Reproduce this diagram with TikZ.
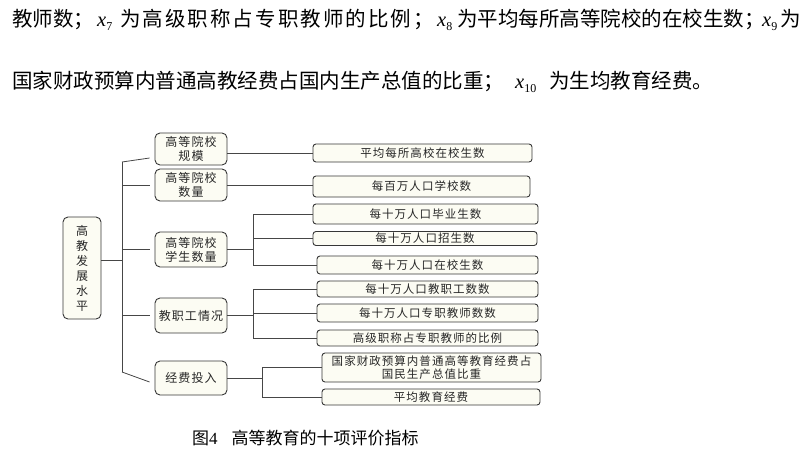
\documentclass[tikz,border=0pt]{standalone}
\usepackage[no-math]{fontspec}
\setmainfont{Noto Sans CJK SC}
\newfontfamily\boxfont[LetterSpace=9]{Noto Sans CJK SC}
\newfontfamily\widefont[LetterSpace=10]{Noto Sans CJK SC}
\newfontfamily\latinfont{Liberation Serif}
\usepackage{tikz}
\usepackage{amsmath}

\definecolor{boxfill}{RGB}{252,252,243}
\definecolor{boxline}{RGB}{55,55,55}
\definecolor{linkgray}{RGB}{70,70,70}

\newcommand{\xvar}[1]{{\latinfont\itshape x}\raisebox{-4pt}{\latinfont\fontsize{12}{12}\selectfont #1}}

\tikzset{
  toptext/.style={anchor=base west,inner sep=0pt,font=\fontsize{20.5}{24}\selectfont},
  catbox/.style={draw=boxline,fill=boxfill,rounded corners=5pt,line width=0.9pt,
    inner sep=0pt,minimum width=72pt,align=center,text=black!85,
    font=\boxfont\fontsize{12}{14}\selectfont},
  itembox/.style={draw=boxline,fill=boxfill,rounded corners=3pt,line width=0.9pt,
    inner sep=0pt,align=center,text=black!85,
    font=\boxfont\fontsize{11.5}{13}\selectfont},
  link/.style={draw=linkgray,line width=0.8pt}
}

\begin{document}
\begin{tikzpicture}[x=1pt,y=-1pt]
\useasboundingbox (0,0) rectangle (802,450);
% text above the figure:
\node[toptext] (lineAa) at (12,26) {教师数；};
\node[toptext] (lineAb) at (97,26) {\xvar{7}};
\node[toptext,font=\widefont\fontsize{20.5}{24}\selectfont] (lineAc) at (120,26) {为高级职称占专职教师的比例；};
\node[toptext] (lineAd) at (437,26) {\xvar{8}};
\node[toptext] (lineAe) at (457,26) {为平均每所高等院校的在校生数；};
\node[toptext] (lineAf) at (762,26) {\xvar{9}};
\node[toptext] (lineAg) at (780,26) {为};
\node[toptext] (lineBa) at (12,88) {国家财政预算内普通高教经费占国内生产总值的比重；};
\node[toptext] (lineBb) at (515,88) {\xvar{10}};
\node[toptext] (lineBc) at (549,88) {为生均教育经费。};
% root and first level:
\node[catbox,minimum width=38pt,minimum height=102pt,
  font=\boxfont\fontsize{12}{15}\selectfont] (root) at (82,268) {高\\教\\发\\展\\水\\平};
\node[catbox,minimum height=32pt] (lvScale) at (191,149) {高等院校\\规模};
\node[catbox,minimum height=32pt] (lvNum) at (191,185) {高等院校\\数量};
\node[catbox,minimum height=35pt] (lvStu) at (191,249.5) {高等院校\\学生数量};
\node[catbox,minimum height=35pt] (lvStaff) at (191,315.5) {教职工情况};
\node[catbox,minimum height=34pt] (lvFund) at (191,378) {经费投入};
% second level:
\node[itembox,minimum width=219pt,minimum height=18pt] (avgEnrol) at (422.5,153) {平均每所高校在校生数};
\node[itembox,minimum width=217pt,minimum height=21pt] (milSchool) at (421.5,186.5) {每百万人口学校数};
\node[itembox,minimum width=225pt,minimum height=20pt] (tenGrad) at (425.5,214) {每十万人口毕业生数};
\node[itembox,minimum width=224pt,minimum height=14pt] (tenAdmit) at (425,238.5) {每十万人口招生数};
\node[itembox,minimum width=221pt,minimum height=18pt] (tenEnrol) at (427.5,265) {每十万人口在校生数};
\node[itembox,minimum width=221pt,minimum height=16pt] (tenStaff) at (427.5,289) {每十万人口教职工数数};
\node[itembox,minimum width=221pt,minimum height=18pt] (tenTeach) at (427.5,313) {每十万人口专职教师数数};
\node[itembox,minimum width=221pt,minimum height=16pt] (seniorRate) at (427.5,338) {高级职称占专职教师的比例};
\node[itembox,minimum width=219pt,minimum height=29pt] (gdpShare) at (431.5,367.5) {国家财政预算内普通高等教育经费占\\国民生产总值比重};
\node[itembox,minimum width=218pt,minimum height=16pt] (avgFund) at (431,397) {平均教育经费};
% caption:
\node[toptext,font=\fontsize{17}{20}\selectfont] (caption) at (192,444) {图{\latinfont 4}\hspace{14pt}高等教育的十项评价指标};
% connectors, first level:
\coordinate (trunkTop) at (122,162);
\coordinate (trunkBot) at (122,372);
\coordinate (rootJoin) at (122,260);
\coordinate (forkB) at (253,0);
\coordinate (forkE) at (262,0);
\draw[link] (root.east |- rootJoin) -- (rootJoin);
\draw[link] (trunkTop) -- (trunkBot);
\draw[link] (trunkTop) -- ([shift={(-5,9)}]lvScale.west);
\draw[link] (lvNum.west -| trunkTop) -- ([xshift=-5pt]lvNum.west);
\draw[link] (lvStu.west -| trunkTop) -- ([xshift=-5pt]lvStu.west);
\draw[link] (lvStaff.west -| trunkTop) -- ([xshift=-5pt]lvStaff.west);
\draw[link] (trunkBot) -- ([shift={(-5,4)}]lvFund.west);
% connectors, second level:
\draw[link] (lvScale.east |- avgEnrol.west) -- (avgEnrol.west);
\draw[link] (lvNum.east) -- (lvNum.east -| milSchool.west);
\draw[link] (lvStu.east) -- (lvStu.east -| forkB);
\draw[link] (tenGrad.west -| forkB) -- (tenEnrol.west -| forkB);
\foreach \n in {tenGrad,tenAdmit,tenEnrol}
  \draw[link] (\n.west -| forkB) -- (\n.west);
\draw[link] (lvStaff.east) -- (lvStaff.east -| forkB);
\draw[link] (tenStaff.west -| forkB) -- (seniorRate.west -| forkB);
\foreach \n in {tenStaff,tenTeach,seniorRate}
  \draw[link] (\n.west -| forkB) -- (\n.west);
\draw[link] (lvFund.east) -- (lvFund.east -| forkE);
\draw[link] (gdpShare.west -| forkE) -- (avgFund.west -| forkE);
\foreach \n in {gdpShare,avgFund}
  \draw[link] (\n.west -| forkE) -- (\n.west);
\end{tikzpicture}
\end{document}
